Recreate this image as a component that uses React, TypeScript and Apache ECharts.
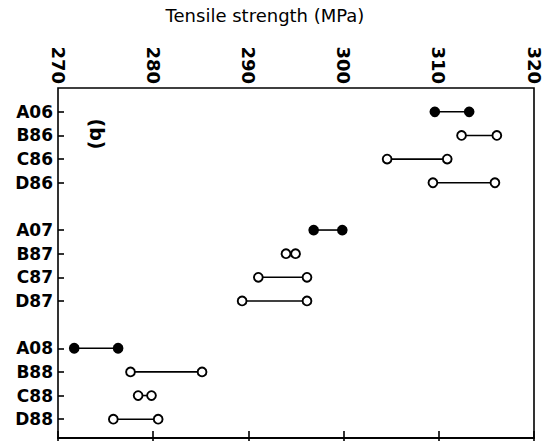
import React, { useEffect, useRef } from "react";
import * as echarts from "echarts";

const categories = ["A06", "B86", "C86", "D86", " ", "A07", "B87", "C87", "D87", "  ", "A08", "B88", "C88", "D88"];
const lowValues = [309.5, 312.3, 304.5, 309.3, null, 296.8, 293.9, 291.0, 289.3, null, 271.7, 277.6, 278.4, 275.8];
const highValues = [313.1, 316.0, 310.8, 315.8, null, 299.8, 294.9, 296.1, 296.1, null, 276.3, 285.1, 279.8, 280.5];
const filledMarker = [true, false, false, false, false, true, false, false, false, false, true, false, false, false];
const xTicks = [270, 280, 290, 300, 310, 320];

const FONT = "'DejaVu Sans', Arial, Helvetica, sans-serif";

export default function App() {
  const ref = useRef<HTMLDivElement>(null);
  useEffect(() => {
    if (!ref.current) return;
    const chart = echarts.init(ref.current, null, { renderer: "svg" });
    const seriesData: any[] = [];
    categories.forEach((c, i) => {
      if (lowValues[i] != null && highValues[i] != null) {
        seriesData.push([i, lowValues[i], highValues[i], filledMarker[i] ? 1 : 0]);
      }
    });
    const xMin = xTicks[0];
    const xMax = xTicks[xTicks.length - 1];
    const option: any = {
      animation: false,
      backgroundColor: "#fff",
      grid: [
        { left: 58, right: 8, top: 88, bottom: 3, show: true, borderColor: "#000", borderWidth: 1.6, backgroundColor: "transparent" },
        { left: 58, right: 8, top: 100, bottom: 10 },
      ],
      xAxis: [
        {
          type: "value", gridIndex: 0, position: "top", min: xMin, max: xMax, interval: 10,
          axisLine: { show: true, lineStyle: { color: "#000", width: 1.6 } },
          axisTick: { show: true, inside: true, length: 7, lineStyle: { color: "#000", width: 1.6 } },
          axisLabel: { rotate: -90, margin: 4, color: "#000", fontFamily: FONT, fontSize: 18, fontWeight: "bold" },
          splitLine: { show: false },
        },
        {
          type: "value", gridIndex: 0, position: "bottom", min: xMin, max: xMax, interval: 10,
          axisLine: { show: true, lineStyle: { color: "#000", width: 1.6 } },
          axisTick: { show: true, inside: true, length: 7, lineStyle: { color: "#000", width: 1.6 } },
          axisLabel: { show: false },
          splitLine: { show: false },
        },
        {
          type: "value", gridIndex: 1, min: xMin, max: xMax, show: false,
        },
      ],
      yAxis: [
        { type: "value", gridIndex: 0, show: false },
        {
          type: "category", gridIndex: 1, inverse: true, data: categories,
          axisLine: { show: false },
          axisTick: {
            show: true, inside: true, alignWithLabel: true, length: 6,
            interval: (index: number, value: string) => value.trim() !== "",
            lineStyle: { color: "#000", width: 1.6 },
          },
          axisLabel: { margin: 5, color: "#000", fontFamily: FONT, fontSize: 17, fontWeight: "bold", interval: 0 },
          splitLine: { show: false },
        },
      ],
      graphic: [
        {
          type: "text", x: 265, y: 15,
          style: { text: "Tensile strength (MPa)", fontFamily: FONT, fontSize: 18, fontWeight: "normal", fill: "#000", textAlign: "center", textVerticalAlign: "middle" },
        },
        {
          type: "text", x: 97, y: 134, rotation: -Math.PI / 2,
          style: { text: "(b)", fontFamily: FONT, fontSize: 19, fontWeight: "bold", fill: "#000", textAlign: "center", textVerticalAlign: "middle" },
        },
      ],
      series: [
        {
          type: "custom",
          xAxisIndex: 2,
          yAxisIndex: 1,
          data: seriesData,
          encode: { x: [1, 2], y: 0 },
          renderItem: (params: any, api: any) => {
            const idx = api.value(0);
            const p1 = api.coord([api.value(1), idx]);
            const p2 = api.coord([api.value(2), idx]);
            const filled = api.value(3) === 1;
            const r = 4.4;
            return {
              type: "group",
              children: [
                { type: "line", shape: { x1: p1[0], y1: p1[1], x2: p2[0], y2: p2[1] }, style: { stroke: "#000", lineWidth: 1.6 } },
                { type: "circle", shape: { cx: p1[0], cy: p1[1], r }, style: { fill: filled ? "#000" : "#fff", stroke: "#000", lineWidth: 1.9 } },
                { type: "circle", shape: { cx: p2[0], cy: p2[1], r }, style: { fill: filled ? "#000" : "#fff", stroke: "#000", lineWidth: 1.9 } },
              ],
            };
          },
        },
      ],
    };
    chart.setOption(option);
    return () => chart.dispose();
  }, []);
  return <div ref={ref} style={{ position: "fixed", left: 0, top: 0, width: 543, height: 441 }} />;
}
